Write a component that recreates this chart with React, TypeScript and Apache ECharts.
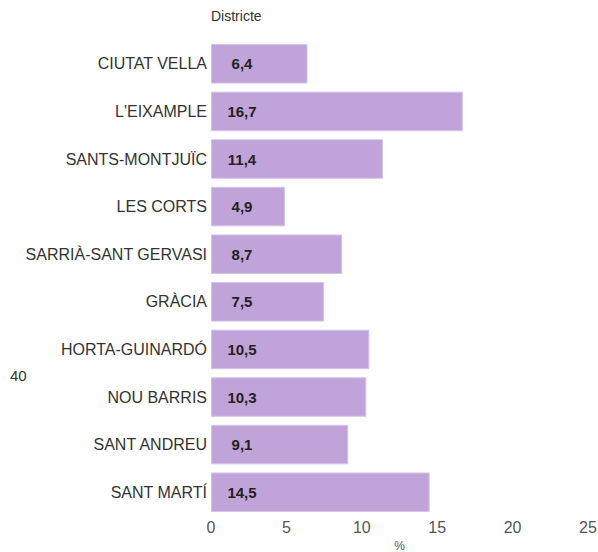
import React, { useEffect, useRef } from "react";
import * as echarts from "echarts";

const categories = [
  "CIUTAT VELLA",
  "L'EIXAMPLE",
  "SANTS-MONTJUÏC",
  "LES CORTS",
  "SARRIÀ-SANT GERVASI",
  "GRÀCIA",
  "HORTA-GUINARDÓ",
  "NOU BARRIS",
  "SANT ANDREU",
  "SANT MARTÍ",
];
const values = [6.4, 16.7, 11.4, 4.9, 8.7, 7.5, 10.5, 10.3, 9.1, 14.5];
const xTicks = [0, 5, 10, 15, 20, 25];
const yTitle = "Districte";
const xTitle = "%";
const sideNote = "40";

const FONT = "'Liberation Sans', Arial, sans-serif";

export default function App() {
  const ref = useRef<HTMLDivElement>(null);
  useEffect(() => {
    const chart = echarts.init(ref.current!, null, { renderer: "svg" });
    chart.setOption({
      animation: false,
      textStyle: { fontFamily: FONT },
      grid: {
        left: 211,
        right: 10,
        top: 40,
        bottom: 36,
        containLabel: false,
        outerBoundsMode: "none",
      },
      xAxis: {
        type: "value",
        min: xTicks[0],
        max: xTicks[xTicks.length - 1],
        interval: 5,
        name: xTitle,
        nameLocation: "middle",
        nameGap: 22,
        nameTextStyle: { color: "#555", fontSize: 12, fontFamily: FONT },
        axisLine: { show: false },
        axisTick: { show: false },
        splitLine: { show: false },
        axisLabel: { color: "#555", fontSize: 16, margin: 3, fontFamily: FONT },
      },
      yAxis: {
        type: "category",
        data: categories,
        inverse: true,
        axisLine: { show: false },
        axisTick: { show: false },
        splitLine: { show: false },
        axisLabel: { color: "#333", fontSize: 16, margin: 4, fontFamily: FONT },
      },
      graphic: [
        {
          type: "text",
          left: 211,
          top: 9,
          style: { text: yTitle, fill: "#333", fontSize: 14, fontFamily: FONT },
        },
        {
          type: "text",
          left: 10,
          top: 368,
          style: { text: sideNote, fill: "#333", fontSize: 15, fontFamily: FONT },
        },
      ],
      series: [
        {
          type: "bar",
          data: values,
          barCategoryGap: "17%",
          itemStyle: { color: "#c0a3d8", borderColor: "#d6c3e6", borderWidth: 1 },
          label: {
            show: true,
            position: [31, "50%"],
            align: "center",
            verticalAlign: "middle",
            color: "#222",
            fontWeight: "bold",
            fontSize: 15,
            fontFamily: FONT,
            formatter: (p: any) => String(p.value).replace(".", ","),
          },
        },
      ],
    });
    return () => chart.dispose();
  }, []);
  return (
    <div
      ref={ref}
      style={{ position: "absolute", left: 0, top: 0, width: 598, height: 552, background: "#fff" }}
    />
  );
}
